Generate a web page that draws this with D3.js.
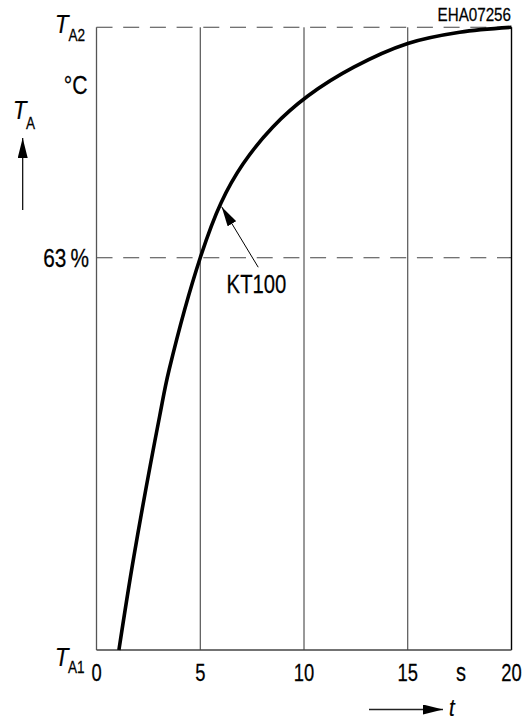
<!DOCTYPE html>
<html>
<head>
<meta charset="utf-8">
<script src="https://cdn.jsdelivr.net/npm/d3@7/dist/d3.min.js"></script>
<style>
  body { margin: 0; background: #fff; }
  text { font-family: "Liberation Sans", Arial, sans-serif; fill: #000; stroke: #000; stroke-width: 0.25; }
</style>
</head>
<body>
<div id="chart"></div>
<script>
// Data
const curveT   = [1.08, 1.8, 3.04, 3.5, 5.0, 6.0, 7.05, 8.5, 10.2, 12.4, 15.0, 17.5, 20];
const curvePct = [0, 15, 37.5, 45, 63, 71.8, 78, 84, 89, 93.6, 97.4, 99.2, 100];
const gridT = [5, 10, 15, 20];
const tickT = [0, 5, 10, 15, 20];
const dashPct = [63, 100];
const annotation = { t: 6.03, pct: 71.2, label: "KT100" };

const [width, height] = [532, 720];
const plot = { left: 96.5, right: 511.5, top: 27.3, bottom: 650 };
const squeeze = 0.8;   // the lettering is a condensed grotesque

const svg = d3.select("#chart").append("svg")
  .attr("width", width)
  .attr("height", height);

const xScale = d3.scaleLinear().domain([0, 20]).range([plot.left, plot.right]);
const yScale = d3.scaleLinear().domain([0, 100]).range([plot.bottom, plot.top]);

const defs = svg.append("defs");
defs.append("marker")
  .attr("id", "head")
  .attr("viewBox", "0 0 20 10")
  .attr("refX", 20).attr("refY", 5)
  .attr("markerWidth", 20).attr("markerHeight", 10)
  .attr("markerUnits", "userSpaceOnUse")
  .attr("orient", "auto")
  .append("path").attr("d", "M0,0 L20,5 L0,10 Z").attr("fill", "#000");

const label = (x, y, str, size, opts = {}) => {
  const t = svg.append("text")
    .attr("transform", `translate(${x},${y}) scale(${opts.sx || squeeze},1)`)
    .attr("font-size", size)
    .attr("text-anchor", opts.anchor || "start")
    .text(str);
  if (opts.italic) t.attr("font-style", "italic");
  return t;
};

// dashed levels
svg.selectAll(".level")
  .data(dashPct)
  .enter().append("line")
  .attr("x1", plot.left).attr("x2", plot.right)
  .attr("y1", d => yScale(d)).attr("y2", d => yScale(d))
  .attr("stroke", "#444").attr("stroke-width", 1.1)
  .attr("stroke-dasharray", "16,10.7");

// vertical grid lines
svg.selectAll(".grid")
  .data(gridT)
  .enter().append("line")
  .attr("x1", d => xScale(d)).attr("x2", d => xScale(d))
  .attr("y1", plot.top)
  .attr("y2", plot.bottom)
  .attr("stroke", d => d === 20 ? "#000" : "#333")
  .attr("stroke-width", d => d === 20 ? 1.4 : 1);

// axes
svg.append("line")
  .attr("x1", plot.left).attr("x2", plot.left)
  .attr("y1", plot.top).attr("y2", plot.bottom)
  .attr("stroke", "#555").attr("stroke-width", 1.3);
svg.append("line")
  .attr("x1", plot.left).attr("x2", plot.right)
  .attr("y1", plot.bottom).attr("y2", plot.bottom)
  .attr("stroke", "#444").attr("stroke-width", 1.3);

// the curve
const line = d3.line()
  .x((d, i) => xScale(curveT[i]))
  .y(d => yScale(d))
  .curve(d3.curveCatmullRom.alpha(0.5));

svg.append("path")
  .datum(curvePct)
  .attr("d", line)
  .attr("fill", "none")
  .attr("stroke", "#000")
  .attr("stroke-width", 3.6);

// KT100 pointer
const tipX = xScale(annotation.t), tipY = yScale(annotation.pct);
svg.append("line")
  .attr("x1", tipX + 36.6).attr("y1", tipY + 60.6)
  .attr("x2", tipX).attr("y2", tipY)
  .attr("stroke", "#000").attr("stroke-width", 1)
  .attr("marker-end", "url(#head)");
label(tipX + 5, tipY + 86.5, annotation.label, 26, { sx: 0.78 });

// tick labels
svg.selectAll(".tick")
  .data(tickT)
  .enter().append("text")
  .attr("transform", d => `translate(${xScale(d)},680.5) scale(${squeeze},1)`)
  .attr("font-size", 23)
  .attr("text-anchor", "middle")
  .text(d => d);
label(461, 680.5, "s", 25, { anchor: "middle" });

// y axis labels
label(55, 32.5, "T", 26, { italic: true, sx: 0.85 });
label(68.5, 40.5, "A2", 17);
label(87.5, 94, "°C", 26.5, { anchor: "end" });
label(89, 267, "63\u2009%", 26, { anchor: "end" });
label(55, 665.5, "T", 26, { italic: true, sx: 0.85 });
label(68, 673, "A1", 17);

// TA with upward arrow
label(13, 118.5, "T", 26, { italic: true, sx: 0.85 });
label(26, 128.5, "A", 17);
svg.append("line")
  .attr("x1", 22.7).attr("y1", 210)
  .attr("x2", 22.7).attr("y2", 138)
  .attr("stroke", "#000").attr("stroke-width", 1.2)
  .attr("marker-end", "url(#head)");

// t with arrow
svg.append("line")
  .attr("x1", 369).attr("y1", 709.5)
  .attr("x2", 443).attr("y2", 709.5)
  .attr("stroke", "#222").attr("stroke-width", 1.4)
  .attr("marker-end", "url(#head)");
label(449, 716, "t", 24, { italic: true, sx: 0.85 });

// drawing number
label(511, 20.7, "EHA07256", 19, { anchor: "end", sx: 0.8 });
</script>
</body>
</html>
